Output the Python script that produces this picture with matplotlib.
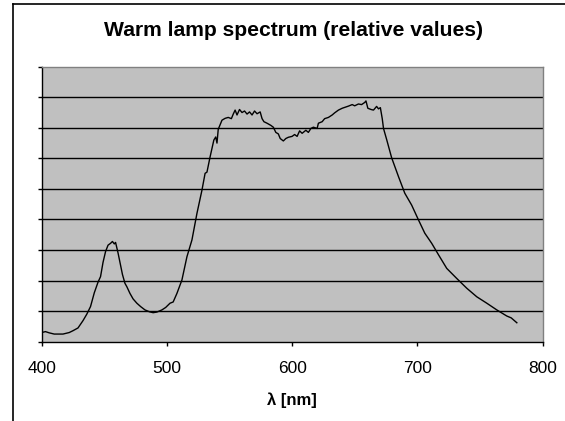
import matplotlib
matplotlib.use("Agg")
import matplotlib.pyplot as plt
from matplotlib.lines import Line2D

# ---- data ----
wavelength_nm = [
    400, 403, 406, 410, 417, 422, 425, 429, 433, 436, 439, 442, 445, 447, 449,
    451, 453, 455, 456.5, 458, 459, 461, 463, 464.5, 466.5, 468, 470.5, 473,
    476, 479, 482.5, 486, 489, 492, 496, 499, 502.5, 505, 508, 512, 516, 520,
    524, 528, 530.5, 532, 534.5, 537.5, 539, 540, 541, 544, 546.5, 549, 551.5,
    553, 554.5, 556, 558, 560, 562, 564, 566, 568, 570, 572, 574.5, 576,
    577.5, 580, 583, 585, 587, 589, 590.5, 593, 595, 597, 600, 602, 604, 606,
    608, 611, 613, 615, 617, 620, 621, 624, 626, 629, 632, 634, 637, 640, 643,
    645, 648, 650, 653, 655.5, 658, 659, 660.5, 663, 665, 667.5, 669, 670.5,
    672, 673, 675.5, 679.5, 685, 690, 695.5, 701, 706, 711.5, 717, 723.5,
    731.5, 739.5, 747.5, 755.5, 763.5, 771.5, 775, 779.5,
]
intensity = [
    0.30, 0.33, 0.29, 0.25, 0.25, 0.30, 0.36, 0.45, 0.69, 0.90, 1.15, 1.60,
    1.95, 2.13, 2.60, 2.95, 3.16, 3.22, 3.28, 3.20, 3.25, 2.90, 2.50, 2.20,
    1.91, 1.80, 1.58, 1.40, 1.26, 1.15, 1.04, 0.98, 0.95, 0.97, 1.04, 1.12,
    1.26, 1.30, 1.58, 2.02, 2.78, 3.33, 4.20, 4.96, 5.51, 5.55, 6.05, 6.60,
    6.70, 6.50, 6.95, 7.25, 7.31, 7.34, 7.30, 7.45, 7.58, 7.42, 7.60, 7.50,
    7.55, 7.45, 7.52, 7.42, 7.55, 7.46, 7.52, 7.30, 7.20, 7.15, 7.08, 7.02,
    6.85, 6.80, 6.65, 6.57, 6.65, 6.69, 6.72, 6.78, 6.72, 6.90, 6.82, 6.92,
    6.85, 6.98, 7.02, 6.98, 7.15, 7.20, 7.30, 7.34, 7.42, 7.49, 7.58, 7.64,
    7.68, 7.71, 7.76, 7.72, 7.78, 7.76, 7.83, 7.88, 7.64, 7.60, 7.58, 7.70,
    7.62, 7.66, 7.30, 6.98, 6.62, 6.02, 5.40, 4.86, 4.47, 3.98, 3.55, 3.22,
    2.84, 2.40, 2.07, 1.75, 1.47, 1.26, 1.04, 0.84, 0.78, 0.62,
]
x_ticks = [400, 500, 600, 700, 800]
y_grid = [0, 1, 2, 3, 4, 5, 6, 7, 8, 9]
title = "Warm lamp spectrum (relative values)"
x_label = "λ [nm]"

plt.rcParams['font.family'] = ['Liberation Sans', 'DejaVu Sans']

fig = plt.figure(figsize=(5.65, 4.21), dpi=100)
ax = fig.add_axes([41.7 / 565, 1 - 341.7 / 421, (542.5 - 41.7) / 565, (341.7 - 66.7) / 421])
ax.set_facecolor('#c0c0c0')

for g in y_grid[1:-1]:
    ax.axhline(g, color='black', lw=1.0, zorder=1)

ax.plot(wavelength_nm, intensity, color='black', lw=1.0, zorder=3)

ax.set_xlim(400, 800)
ax.set_ylim(0, 9)
ax.set_xticks(x_ticks)
ax.set_xticklabels([str(t) for t in x_ticks], fontsize=12.5)
ax.set_yticks(y_grid)
ax.set_yticklabels([])
ax.tick_params(axis='both', direction='out', length=3, width=1, color='black')
ax.tick_params(axis='x', pad=11)

for s in ['left', 'bottom']:
    ax.spines[s].set_color('black')
    ax.spines[s].set_linewidth(1.0)
for s in ['top', 'right']:
    ax.spines[s].set_color('#808080')
    ax.spines[s].set_linewidth(1.0)

ax.set_xlabel(x_label, fontsize=12, fontweight='bold', labelpad=12)
fig.text(293 / 565, 1 - 30 / 421, title, fontsize=15.2, fontweight='bold',
         ha='center', va='center')

# outer chart frame (only left and top edges visible)
fig.add_artist(Line2D([12.7 / 565, 12.7 / 565], [0, 1 - 4 / 421], color='black', lw=1.2,
                      transform=fig.transFigure))
fig.add_artist(Line2D([12.7 / 565, 1], [1 - 4 / 421, 1 - 4 / 421], color='black', lw=1.2,
                      transform=fig.transFigure))

fig.savefig('out.png', dpi=100)
